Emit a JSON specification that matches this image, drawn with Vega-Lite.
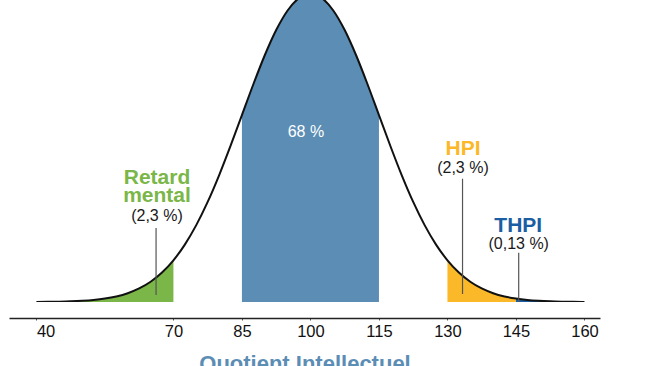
{
  "$schema": "https://vega.github.io/schema/vega-lite/v6.json",
  "autosize": "none",
  "width": 591,
  "height": 302,
  "padding": {"left": 9, "top": 0, "right": 50, "bottom": 64},
  "background": "white",
  "config": {"view": {"stroke": null}, "font": "Liberation Sans"},
  "datasets": {
    "curve": [
      {"iq": 40, "d": 0.03}, {"iq": 42.5, "d": 0.06}, {"iq": 45, "d": 0.12}, {"iq": 47.5, "d": 0.22},
      {"iq": 50, "d": 0.39}, {"iq": 52.5, "d": 0.66}, {"iq": 55, "d": 1.11}, {"iq": 57.5, "d": 1.81},
      {"iq": 60, "d": 2.86}, {"iq": 62.5, "d": 4.39}, {"iq": 65, "d": 6.57}, {"iq": 67.5, "d": 9.56},
      {"iq": 70, "d": 13.53}, {"iq": 72.5, "d": 18.63}, {"iq": 75, "d": 24.94}, {"iq": 77.5, "d": 32.47},
      {"iq": 80, "d": 41.11}, {"iq": 82.5, "d": 50.63}, {"iq": 85, "d": 60.65}, {"iq": 87.5, "d": 70.66},
      {"iq": 90, "d": 80.07}, {"iq": 92.5, "d": 88.25}, {"iq": 95, "d": 94.6}, {"iq": 97.5, "d": 98.62},
      {"iq": 100, "d": 100}, {"iq": 102.5, "d": 98.62}, {"iq": 105, "d": 94.6}, {"iq": 107.5, "d": 88.25},
      {"iq": 110, "d": 80.07}, {"iq": 112.5, "d": 70.66}, {"iq": 115, "d": 60.65}, {"iq": 117.5, "d": 50.63},
      {"iq": 120, "d": 41.11}, {"iq": 122.5, "d": 32.47}, {"iq": 125, "d": 24.94}, {"iq": 127.5, "d": 18.63},
      {"iq": 130, "d": 13.53}, {"iq": 132.5, "d": 9.56}, {"iq": 135, "d": 6.57}, {"iq": 137.5, "d": 4.39},
      {"iq": 140, "d": 2.86}, {"iq": 142.5, "d": 1.81}, {"iq": 145, "d": 1.11}, {"iq": 147.5, "d": 0.66},
      {"iq": 150, "d": 0.39}, {"iq": 152.5, "d": 0.22}, {"iq": 155, "d": 0.12}, {"iq": 157.5, "d": 0.06},
      {"iq": 160, "d": 0.03}
    ],
    "zones": [
      {"zone": "Retard mental", "iq": 40, "d": 0.03}, {"zone": "Retard mental", "iq": 42.5, "d": 0.06},
      {"zone": "Retard mental", "iq": 45, "d": 0.12}, {"zone": "Retard mental", "iq": 47.5, "d": 0.22},
      {"zone": "Retard mental", "iq": 50, "d": 0.39}, {"zone": "Retard mental", "iq": 52.5, "d": 0.66},
      {"zone": "Retard mental", "iq": 55, "d": 1.11}, {"zone": "Retard mental", "iq": 57.5, "d": 1.81},
      {"zone": "Retard mental", "iq": 60, "d": 2.86}, {"zone": "Retard mental", "iq": 62.5, "d": 4.39},
      {"zone": "Retard mental", "iq": 65, "d": 6.57}, {"zone": "Retard mental", "iq": 67.5, "d": 9.56},
      {"zone": "Retard mental", "iq": 70, "d": 13.53},
      {"zone": "Moyenne", "iq": 85, "d": 60.65}, {"zone": "Moyenne", "iq": 87.5, "d": 70.66},
      {"zone": "Moyenne", "iq": 90, "d": 80.07}, {"zone": "Moyenne", "iq": 92.5, "d": 88.25},
      {"zone": "Moyenne", "iq": 95, "d": 94.6}, {"zone": "Moyenne", "iq": 97.5, "d": 98.62},
      {"zone": "Moyenne", "iq": 100, "d": 100}, {"zone": "Moyenne", "iq": 102.5, "d": 98.62},
      {"zone": "Moyenne", "iq": 105, "d": 94.6}, {"zone": "Moyenne", "iq": 107.5, "d": 88.25},
      {"zone": "Moyenne", "iq": 110, "d": 80.07}, {"zone": "Moyenne", "iq": 112.5, "d": 70.66},
      {"zone": "Moyenne", "iq": 115, "d": 60.65},
      {"zone": "HPI", "iq": 130, "d": 13.53}, {"zone": "HPI", "iq": 132.5, "d": 9.56},
      {"zone": "HPI", "iq": 135, "d": 6.57}, {"zone": "HPI", "iq": 137.5, "d": 4.39},
      {"zone": "HPI", "iq": 140, "d": 2.86}, {"zone": "HPI", "iq": 142.5, "d": 1.81},
      {"zone": "HPI", "iq": 145, "d": 1.11},
      {"zone": "THPI", "iq": 145, "d": 1.11}, {"zone": "THPI", "iq": 147.5, "d": 0.66},
      {"zone": "THPI", "iq": 150, "d": 0.39}, {"zone": "THPI", "iq": 152.5, "d": 0.22},
      {"zone": "THPI", "iq": 155, "d": 0.12}, {"zone": "THPI", "iq": 157.5, "d": 0.06},
      {"zone": "THPI", "iq": 160, "d": 0.03}
    ],
    "pointers": [
      {"iq": 66.2, "d": 2.3, "d2": 24},
      {"iq": 133.3, "d": 2.6, "d2": 40},
      {"iq": 145.6, "d": 0, "d2": 16}
    ],
    "names": [
      {"zone": "Retard mental", "label": "Retard", "iq": 66.4, "d": 38.3},
      {"zone": "Retard mental", "label": "mental", "iq": 66.4, "d": 32.5},
      {"zone": "HPI", "label": "HPI", "iq": 133.4, "d": 47.7},
      {"zone": "THPI", "label": "THPI", "iq": 145.5, "d": 22.8}
    ],
    "shares": [
      {"label": "(2,3 %)", "iq": 66.4, "d": 26.4},
      {"label": "(2,3 %)", "iq": 133.4, "d": 42.0},
      {"label": "(0,13 %)", "iq": 145.6, "d": 17.1}
    ],
    "middle": [
      {"label": "68 %", "iq": 99.0, "d": 53.6}
    ]
  },
  "layer": [
    {
      "data": {"name": "zones"},
      "mark": {"type": "area", "interpolate": "monotone", "clip": true, "opacity": 1},
      "encoding": {
        "x": {
          "field": "iq", "type": "quantitative",
          "scale": {"domain": [34, 163.4], "nice": false, "zero": false},
          "axis": {
            "title": "Quotient Intellectuel",
            "values": [40, 70, 85, 100, 115, 130, 145, 160],
            "grid": false,
            "offset": 16,
            "domainColor": "#222222",
            "domainWidth": 1.5,
            "tickColor": "#555555",
            "tickSize": 2,
            "labelFont": "Liberation Sans",
            "labelFontSize": 16.5,
            "labelColor": "#111111",
            "labelPadding": 3,
            "labelAlign": {"condition": {"test": "datum.value == 40", "value": "left"}, "value": "center"},
            "labelFlush": false,
            "titleFont": "Liberation Sans",
            "titleFontSize": 22,
            "titleFontWeight": "bold",
            "titleColor": "#5b8db5",
            "titlePadding": 14
          }
        },
        "y": {
          "field": "d", "type": "quantitative", "stack": null,
          "scale": {"domain": [0, 98], "nice": false, "zero": true},
          "axis": null
        },
        "color": {
          "field": "zone", "type": "nominal",
          "scale": {"domain": ["Retard mental", "Moyenne", "HPI", "THPI"], "range": ["#7ab648", "#5b8db5", "#fbb829", "#1b5ea3"]},
          "legend": null
        }
      }
    },
    {
      "data": {"name": "curve"},
      "mark": {"type": "line", "interpolate": "monotone", "clip": true, "color": "#111111", "strokeWidth": 2},
      "encoding": {
        "x": {"field": "iq", "type": "quantitative"},
        "y": {"field": "d", "type": "quantitative"}
      }
    },
    {
      "data": {"name": "pointers"},
      "mark": {"type": "rule", "color": "#555555", "strokeWidth": 1.2},
      "encoding": {
        "x": {"field": "iq", "type": "quantitative"},
        "y": {"field": "d", "type": "quantitative"},
        "y2": {"field": "d2"}
      }
    },
    {
      "data": {"name": "names"},
      "mark": {"type": "text", "font": "Liberation Sans", "fontSize": 21, "fontWeight": "bold", "baseline": "alphabetic", "align": "center"},
      "encoding": {
        "x": {"field": "iq", "type": "quantitative"},
        "y": {"field": "d", "type": "quantitative"},
        "text": {"field": "label"},
        "color": {"field": "zone", "type": "nominal", "legend": null}
      }
    },
    {
      "data": {"name": "shares"},
      "mark": {"type": "text", "font": "Liberation Sans", "fontSize": 16, "color": "#1a1a1a", "baseline": "alphabetic", "align": "center"},
      "encoding": {
        "x": {"field": "iq", "type": "quantitative"},
        "y": {"field": "d", "type": "quantitative"},
        "text": {"field": "label"}
      }
    },
    {
      "data": {"name": "middle"},
      "mark": {"type": "text", "font": "Liberation Sans", "fontSize": 16, "color": "white", "baseline": "alphabetic", "align": "center"},
      "encoding": {
        "x": {"field": "iq", "type": "quantitative"},
        "y": {"field": "d", "type": "quantitative"},
        "text": {"field": "label"}
      }
    }
  ]
}
